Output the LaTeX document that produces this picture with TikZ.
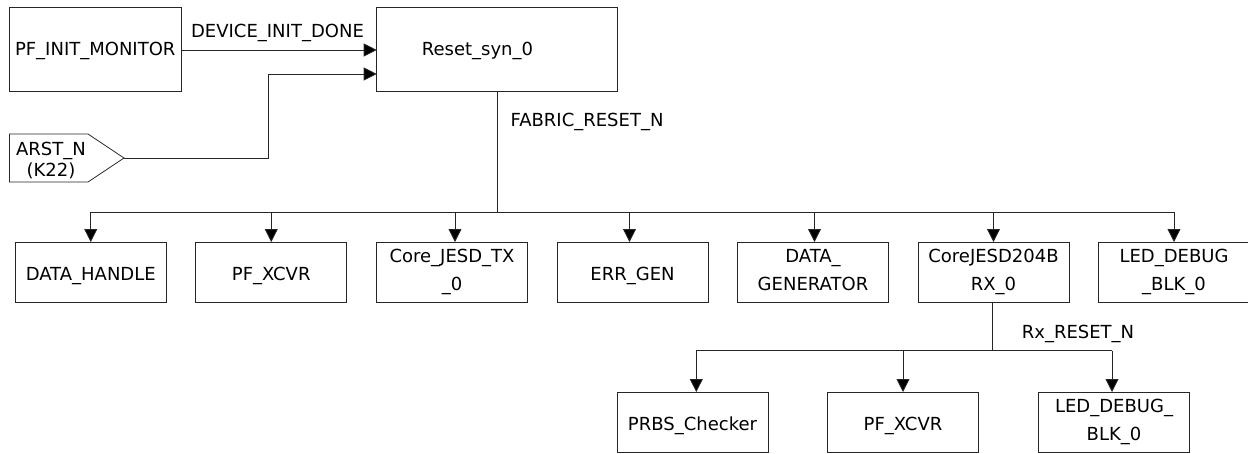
\documentclass[tikz,border=0pt]{standalone}
\usepackage{fontspec}
\setmainfont{DejaVu Sans}
\usetikzlibrary{arrows.meta,calc}
\tikzset{
  x=1pt,y=-1pt,
  boxn/.style={draw=black!85,line width=0.8pt,rectangle,minimum width=151pt,minimum height=60pt,inner sep=0pt,outer sep=0pt,align=center,font=\fontsize{18}{28}\selectfont},
  oneline/.style={text height=20pt,text depth=3pt},
  txt/.style={inner sep=0pt,outer sep=0pt,anchor=base,font=\fontsize{18}{21}\selectfont},
  wire/.style={draw=black!85,line width=0.8pt},
  arr/.style={wire,-{Triangle[length=13pt,width=13pt,fill=black]}}
}
\begin{document}
\begin{tikzpicture}
\useasboundingbox (0,0) rectangle (1248,453);
\node[boxn,minimum width=171.5pt,minimum height=84pt,text height=14pt,text depth=3pt] (mon) at (95.25,49.5) {PF\_INIT\_MONITOR};
\node[boxn,minimum width=241pt,minimum height=84pt] (rst) at (497.2,49.5) {};
\node[txt] (rstl) at (477.5,55) {Reset\_syn\_0};
\node[draw=none,minimum size=0pt,inner sep=0pt,align=center,font=\fontsize{18}{21.5}\selectfont] (arst) at (51,160.5) {ARST\_N\\(K22)};
\coordinate (tip) at (124,158);
\draw[wire] (9.5,134) -- (88,134) -- (tip) -- (88,182) -- (9.5,182) -- cycle;
\node[boxn,oneline] (b1) at (90.75,272) {DATA\_HANDLE};
\node[boxn,oneline] (b2) at (271.25,272) {PF\_XCVR};
\node[boxn] (b3) at (452,272) {Core\_JESD\_TX\\\_0};
\node[boxn,oneline] (b4) at (632.5,272) {ERR\_GEN};
\node[boxn] (b5) at (813,272) {DATA\_\\GENERATOR\vphantom{\_}};
\node[boxn] (b6) at (993.5,272) {CoreJESD204B\\RX\_0};
\node[boxn] (b7) at (1174,272) {LED\_DEBUG\\\_BLK\_0};
\node[boxn,oneline] (c1) at (692.5,422) {PRBS\_Checker};
\node[boxn,oneline] (c2) at (903,422) {PF\_XCVR};
\node[boxn] (c3) at (1114,422) {LED\_DEBUG\_\\BLK\_0};
\node[txt] (l1) at (277.5,37.3) {DEVICE\_INIT\_DONE};
\node[txt] (l2) at (587,126.7) {FABRIC\_RESET\_N};
\node[txt] (l3) at (1078,338.3) {Rx\_RESET\_N};
\coordinate (rin) at ($(rst.west)+(0,0.5)$);
\coordinate (rin2) at ($(rst.west)+(0,24.5)$);
\draw[arr] (mon.east |- rin) -- (rin);
\draw[arr] (tip) -- (268,158) -- (268,74) -- (rin2);
\coordinate (bus) at (rst.south |- 0,212);
\draw[wire] (rst.south) -- (bus);
\coordinate (busL) at (b1.north |- bus);
\coordinate (busR) at (b7.north |- bus);
\draw[wire] (busL) -- (busR);
\foreach \n/\dx in {b1/0,b2/0,b3/3,b4/-3,b5/1.5,b6/0,b7/0}{
  \coordinate (t\n) at ($(\n.north)+(\dx,0)$);
  \draw[arr] (t\n |- bus) -- (t\n);}
\coordinate (rbus) at (992,350.5);
\draw[wire] (rbus |- b6.south) -- (rbus);
\coordinate (a1) at ($(c1.north)+(3.8,0)$);
\coordinate (a3) at ($(c3.north)+(-2,0)$);
\draw[wire] (a1 |- rbus) -- (a3 |- rbus);
\draw[arr] (a1 |- rbus) -- (a1);
\draw[arr] (c2.north |- rbus) -- (c2.north);
\draw[arr] (a3 |- rbus) -- (a3);
\end{tikzpicture}
\end{document}
